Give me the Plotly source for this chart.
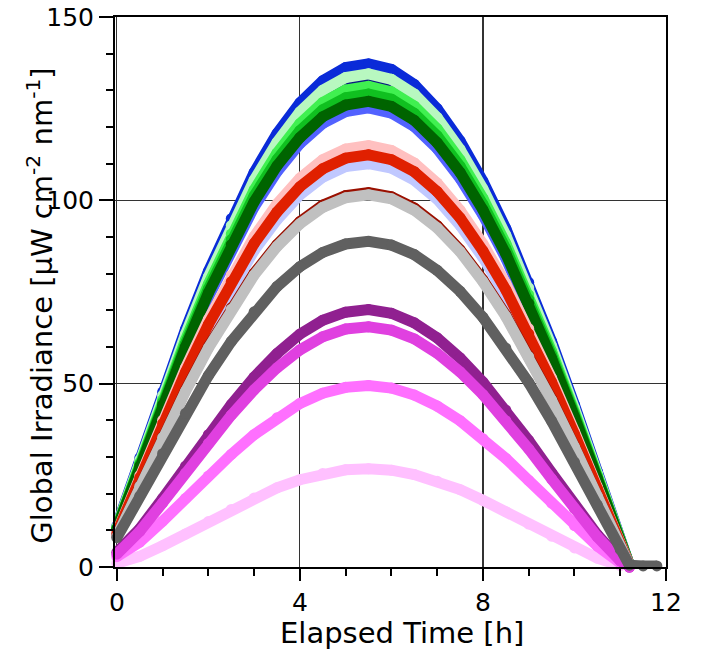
import plotly.graph_objects as go

# Elapsed time [h]
hours = [0, 0.5, 1.0, 1.5, 2.0, 2.5, 3.0, 3.5, 4.0, 4.5, 5.0, 5.5,
         6.0, 6.5, 7.0, 7.5, 8.0, 8.5, 9.0, 9.5, 10.0, 10.5, 11.0, 11.2]
hours_gray = hours + [11.5, 11.8]

# Global irradiance [uW cm-2 nm-1]
blue = [11.2, 29.7, 47.7, 64.8, 80.6, 95.0, 107.6, 118.2, 126.6, 132.6, 136.2, 137.2,
        135.7, 131.6, 125.0, 116.2, 105.2, 92.3, 77.6, 61.5, 44.2, 26.0, 7.5, 0.5]
mid_blue = [10.3, 27.1, 43.5, 59.1, 73.6, 86.7, 98.2, 107.8, 115.5, 121.0, 124.2, 125.2,
            123.8, 120.1, 114.1, 106.0, 96.0, 84.2, 70.9, 56.1, 40.3, 23.8, 6.8, 0.5]
navy = [10.9, 28.8, 46.2, 62.8, 78.2, 92.1, 104.3, 114.5, 122.7, 128.6, 132.0, 133.0,
        131.5, 127.6, 121.2, 112.7, 102.0, 89.5, 75.3, 59.6, 42.9, 25.2, 7.3, 0.5]
light_green = [11.0, 29.2, 46.8, 63.5, 79.1, 93.1, 105.5, 115.8, 124.1, 130.0, 133.5, 134.5,
               133.0, 129.0, 122.6, 113.9, 103.1, 90.5, 76.1, 60.3, 43.3, 25.5, 7.3, 0.5]
green = [10.7, 28.4, 45.6, 61.9, 77.1, 90.8, 102.8, 112.9, 120.9, 126.7, 130.1, 131.1,
         129.6, 125.7, 119.5, 111.0, 100.5, 88.2, 74.2, 58.8, 42.2, 24.9, 7.2, 0.5]
mid_green = [10.6, 28.0, 44.9, 60.9, 75.8, 89.3, 101.2, 111.1, 119.0, 124.7, 128.0, 129.0,
             127.6, 123.7, 117.6, 109.3, 98.9, 86.8, 73.0, 57.8, 41.6, 24.5, 7.0, 0.5]
dark_green = [10.4, 27.5, 44.2, 60.0, 74.7, 87.9, 99.6, 109.4, 117.1, 122.8, 126.0, 127.0,
              125.6, 121.8, 115.7, 107.6, 97.4, 85.4, 71.9, 56.9, 40.9, 24.1, 6.9, 0.5]
salmon = [9.4, 24.9, 40.0, 54.3, 67.5, 79.6, 90.1, 99.0, 106.0, 111.1, 114.0, 114.9,
          113.6, 110.2, 104.7, 97.3, 88.1, 77.3, 65.0, 51.5, 37.0, 21.8, 6.3, 0.5]
lavender = [9.0, 23.8, 38.2, 51.9, 64.7, 76.2, 86.3, 94.7, 101.5, 106.3, 109.2, 110.0,
            108.8, 105.5, 100.3, 93.2, 84.4, 74.0, 62.2, 49.3, 35.4, 20.9, 6.0, 0.5]
red = [9.2, 24.4, 39.1, 53.1, 66.1, 77.8, 88.2, 96.8, 103.7, 108.6, 111.5, 112.4,
       111.1, 107.8, 102.4, 95.2, 86.2, 75.6, 63.6, 50.4, 36.2, 21.3, 6.1, 0.5]
dark_red = [8.4, 22.1, 35.5, 48.2, 60.1, 70.7, 80.1, 87.9, 94.2, 98.7, 101.3, 102.1,
            101.0, 97.9, 93.1, 86.5, 78.3, 68.7, 57.7, 45.8, 32.9, 19.4, 5.5, 0.5]
light_gray = [8.3, 22.0, 35.3, 47.9, 59.7, 70.3, 79.6, 87.4, 93.6, 98.1, 100.7, 101.5,
              100.4, 97.3, 92.5, 86.0, 77.8, 68.3, 57.4, 45.5, 32.7, 19.3, 5.5, 0.5]
light_pink = [1.0, 2.9, 5.8, 9.0, 12.4, 15.7, 18.8, 21.6, 23.8, 25.5, 26.5, 26.8,
              26.4, 25.2, 23.4, 21.1, 18.2, 15.1, 11.7, 8.4, 5.2, 2.4, 0.4, 0.0]
pink = [2.8, 6.8, 12.5, 18.7, 24.8, 30.7, 36.1, 40.7, 44.6, 47.4, 49.0, 49.5,
        48.8, 46.9, 43.9, 39.9, 35.0, 29.6, 23.6, 17.4, 11.3, 5.7, 1.1, 0.0]
purple = [4.0, 10.4, 18.7, 27.5, 36.1, 44.3, 51.8, 58.2, 63.5, 67.3, 69.5, 70.2,
          69.2, 66.6, 62.5, 57.0, 50.4, 42.8, 34.5, 25.7, 17.0, 8.8, 1.9, 0.0]
magenta = [3.5, 9.7, 17.5, 25.6, 33.7, 41.4, 48.3, 54.3, 59.2, 62.8, 64.9, 65.5,
           64.6, 62.2, 58.3, 53.2, 47.0, 39.9, 32.2, 24.0, 15.9, 8.2, 1.7, 0.0]
dark_gray = [8.0, 19.3, 30.9, 41.9, 52.2, 61.5, 69.6, 76.5, 81.9, 85.8, 88.1, 88.8,
             87.8, 85.2, 80.9, 75.2, 68.1, 59.7, 50.3, 39.8, 28.6, 16.9, 4.8, 0.5, 0.3, 0.3]

# drawing order: first = bottom
series = [
    (hours, blue, "#0a2bd8"),
    (hours, mid_blue, "#5262ff"),
    (hours, navy, "#0a1a80"),
    (hours, light_green, "#b8f8c0"),
    (hours, green, "#40f050"),
    (hours, mid_green, "#10c020"),
    (hours, dark_green, "#006400"),
    (hours, salmon, "#ffc0c0"),
    (hours, lavender, "#c0c8ff"),
    (hours, red, "#e02000"),
    (hours, dark_red, "#9a1000"),
    (hours, light_gray, "#c0c0c0"),
    (hours, light_pink, "#ffc0ff"),
    (hours, pink, "#ff70ff"),
    (hours, purple, "#902090"),
    (hours, magenta, "#e040e0"),
    (hours_gray, dark_gray, "#606060"),
]

W = 11
fig = go.Figure()
for xs, ys, col in series:
    fig.add_trace(go.Scatter(
        x=xs, y=ys, mode="lines+markers", cliponaxis=False,
        line=dict(color=col, width=W),
        marker=dict(color=col, size=W, line=dict(width=0)),
        hoverinfo="skip", showlegend=False,
    ))

FONT = "DejaVu Sans, Liberation Sans, Arial, sans-serif"
axis_common = dict(
    showline=True, linewidth=2, linecolor="black", mirror=True,
    ticks="outside", tickwidth=2, tickcolor="black",
    showgrid=True, gridcolor="#333333", gridwidth=1.2,
    zeroline=False, automargin=False, ticklabeloverflow="allow",
    tickfont=dict(size=25, color="black", family=FONT),
)

fig.update_xaxes(range=[-0.04, 12.0], tick0=0, dtick=4, ticklen=12,
                 minor=dict(dtick=1, ticklen=7, tickwidth=2, tickcolor="black",
                            ticks="outside", showgrid=False),
                 **axis_common)
fig.update_yaxes(range=[0, 150], tick0=0, dtick=50, ticklen=14,
                 minor=dict(dtick=10, ticklen=7, tickwidth=2, tickcolor="black",
                            ticks="outside", showgrid=False),
                 **axis_common)

fig.update_layout(
    width=701, height=654,
    margin=dict(l=115, r=35, t=17, b=87, autoexpand=False),
    plot_bgcolor="white", paper_bgcolor="white",
    showlegend=False,
    font=dict(family=FONT, color="black"),
    annotations=[
        dict(text="Elapsed Time [h]", xref="paper", yref="paper",
             x=0.521, y=-0.12, xanchor="center", yanchor="middle",
             showarrow=False, font=dict(size=29)),
        dict(text="Global Irradiance [µW cm<sup>-2</sup> nm<sup>-1</sup>]",
             xref="paper", yref="paper", x=-0.136, y=0.475, textangle=-90,
             xanchor="center", yanchor="middle", showarrow=False,
             font=dict(size=29)),
    ],
)

# remove the default 8px page margin so the figure sits at the window origin
fig.write_html("out.html",
               config={"displayModeBar": False, "staticPlot": True},
               post_script="document.body.style.margin='0';document.body.style.overflow='hidden';")
